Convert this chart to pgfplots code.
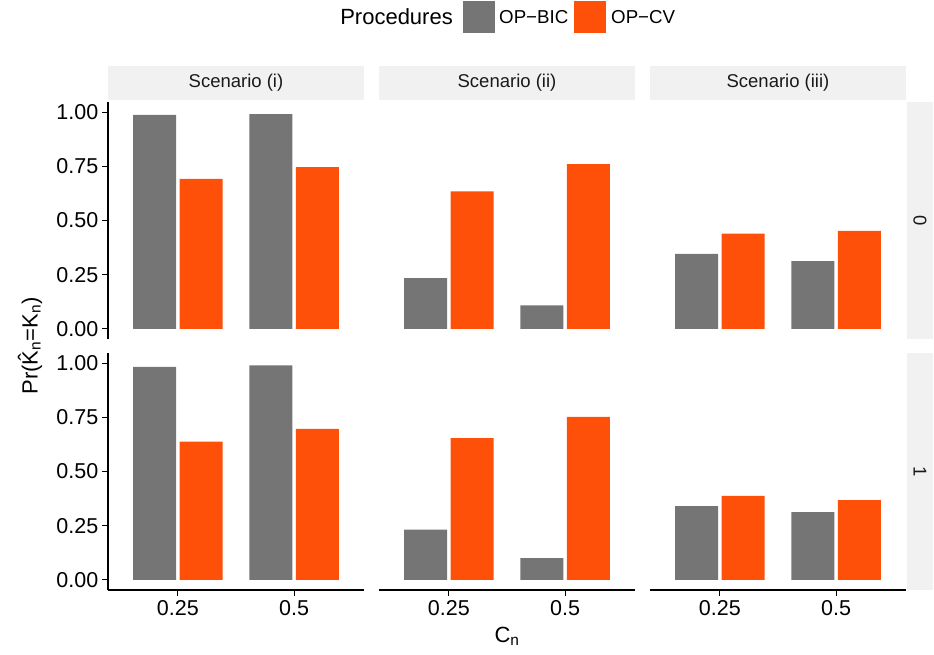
\documentclass[border=0pt]{standalone}
\usepackage{fontspec}
\setmainfont{Liberation Sans}
\usepackage{pgfplots}
\pgfplotsset{compat=1.18}
\definecolor{cbic}{RGB}{117,117,117}
\definecolor{ccv}{RGB}{255,80,10}
\definecolor{stripbg}{RGB}{241,241,241}
\newcommand{\ticksize}{\fontsize{21.5}{24}\selectfont}
\newcommand{\stripsize}{\fontsize{18.5}{21}\selectfont}
\newcommand{\titlesize}{\fontsize{22}{26}\selectfont}
\newcommand{\legsize}{\fontsize{18.7}{22}\selectfont}
\pgfplotsset{
 panel/.style={scale only axis, width=256pt, height=237pt,
   xmin=0.4, xmax=2.6, ymin=-0.047, ymax=1.047, anchor=north west,
   axis line style={-, line width=1.2pt, black},
   tick align=outside, major tick length=5.5pt,
   tick style={line width=1.1pt, black},
   ytick={0,0.25,0.5,0.75,1}, yticklabels={0.00,0.25,0.50,0.75,1.00},
   xtick={1,2}, xticklabels={0.25,0.5},
   tick label style={font=\ticksize, text=black},
   /pgf/number format/assume math mode=true,
   yticklabel style={inner sep=0pt, xshift=-4pt},
   xticklabel style={inner sep=0pt, yshift=-5pt},
   clip=false},
 bic/.style={ybar, bar width=0.37, bar shift=0pt, fill=cbic, draw=none},
 cv/.style={ybar, bar width=0.37, bar shift=0pt, fill=ccv, draw=none},
}
\begin{document}
\begin{tikzpicture}
\path[use as bounding box] (0pt,0pt) rectangle (934pt,-654pt);
% strips
\fill[stripbg] (108pt,-66pt) rectangle (364pt,-100pt);
\fill[stripbg] (379pt,-66pt) rectangle (635pt,-100pt);
\fill[stripbg] (650pt,-66pt) rectangle (906pt,-100pt);
\node[font=\stripsize, text=black!90] at (236pt,-83pt) {Scenario (i)};
\node[font=\stripsize, text=black!90] at (507pt,-83pt) {Scenario (ii)};
\node[font=\stripsize, text=black!90] at (778pt,-83pt) {Scenario (iii)};
\fill[stripbg] (907pt,-102pt) rectangle (933pt,-339pt);
\fill[stripbg] (907pt,-353pt) rectangle (933pt,-590pt);
\node[font=\stripsize, text=black!90, rotate=-90] at (920pt,-220.5pt) {0};
\node[font=\stripsize, text=black!90, rotate=-90] at (920pt,-471.5pt) {1};
% legend
\node[font=\titlesize, anchor=east, inner sep=0pt] at (453pt,-17pt) {Procedures};
\fill[cbic] (463pt,-1pt) rectangle (495pt,-33pt);
\node[font=\legsize, anchor=west, inner sep=0pt] at (499pt,-17pt) {OP−BIC};
\fill[ccv] (574pt,-1pt) rectangle (606pt,-33pt);
\node[font=\legsize, anchor=west, inner sep=0pt] at (611pt,-17pt) {OP−CV};
% axis titles
\node[font=\titlesize, rotate=90] at (30pt,-346pt) {Pr(\^{K}\textsubscript{n}=K\textsubscript{n})};
\node[font=\titlesize] at (507pt,-636pt) {C\textsubscript{n}};

% Row 0, Scenario (i)
\begin{axis}[panel, at={(108pt,-102pt)}, axis x line=none, axis y line*=left]
\addplot[bic] coordinates {(0.8,0.988) (1.8,0.991)};
\addplot[cv] coordinates {(1.2,0.692) (2.2,0.746)};
\end{axis}
% Row 0, Scenario (ii)
\begin{axis}[panel, at={(379pt,-102pt)}, axis x line=none, axis y line=none]
\addplot[bic] coordinates {(0.8,0.234) (1.8,0.108)};
\addplot[cv] coordinates {(1.2,0.635) (2.2,0.760)};
\end{axis}
% Row 0, Scenario (iii)
\begin{axis}[panel, at={(650pt,-102pt)}, axis x line=none, axis y line=none]
\addplot[bic] coordinates {(0.8,0.346) (1.8,0.312)};
\addplot[cv] coordinates {(1.2,0.440) (2.2,0.452)};
\end{axis}
% Row 1, Scenario (i)
\begin{axis}[panel, at={(108pt,-353pt)}, axis x line*=bottom, axis y line*=left]
\addplot[bic] coordinates {(0.8,0.983) (1.8,0.990)};
\addplot[cv] coordinates {(1.2,0.638) (2.2,0.697)};
\end{axis}
% Row 1, Scenario (ii)
\begin{axis}[panel, at={(379pt,-353pt)}, axis x line*=bottom, axis y line=none]
\addplot[bic] coordinates {(0.8,0.232) (1.8,0.100)};
\addplot[cv] coordinates {(1.2,0.654) (2.2,0.752)};
\end{axis}
% Row 1, Scenario (iii)
\begin{axis}[panel, at={(650pt,-353pt)}, axis x line*=bottom, axis y line=none]
\addplot[bic] coordinates {(0.8,0.340) (1.8,0.312)};
\addplot[cv] coordinates {(1.2,0.388) (2.2,0.368)};
\end{axis}
\end{tikzpicture}
\end{document}
